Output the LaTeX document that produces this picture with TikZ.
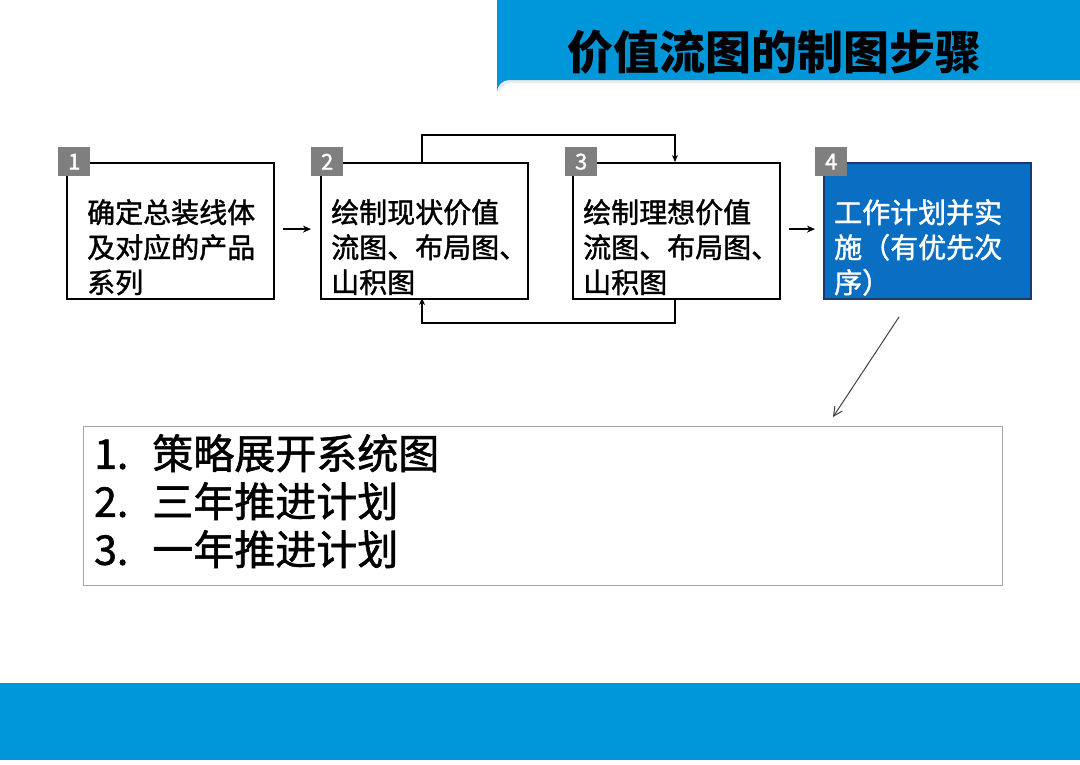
\documentclass[tikz,border=0pt]{standalone}
\usepackage{fontspec}
\setmainfont{Noto Sans CJK SC}
\newfontfamily\cjkmed[FakeBold=1.4]{Noto Sans CJK SC}
\usetikzlibrary{arrows.meta,calc}
\definecolor{banner}{HTML}{0096DA}
\definecolor{stepblue}{HTML}{0A6FC2}
\definecolor{stepborder}{HTML}{1B3A6B}
\definecolor{numgray}{HTML}{7F7F7F}
\tikzset{
  stepbox/.style={draw=black, line width=2.2pt, minimum width=207pt, minimum height=136pt, anchor=north west, inner sep=0pt},
  numbox/.style={fill=numgray, minimum width=32pt, minimum height=29pt, anchor=north west, inner sep=0pt, text=white, font=\fontsize{22}{22}\selectfont\cjkmed},
  steptext/.style={anchor=north west, align=left, inner sep=0pt, font=\fontsize{28}{35}\selectfont\cjkmed},
  flow/.style={line width=1.8pt, -{Stealth[length=8pt,width=7pt]}},
  loop/.style={line width=1.8pt, -{Stealth[length=7pt,width=6pt]}},
}
\begin{document}
\begin{tikzpicture}[x=1pt,y=-1pt]
\useasboundingbox (0,0) rectangle (1080,764);
% top banner
\fill[black!8] (499,2) -- (1080,2) -- (1080,83) -- (511,83) arc[start angle=270,end angle=180,radius=12] -- cycle;
\fill[banner] (497,0) -- (1080,0) -- (1080,80) -- (509,80) arc[start angle=270,end angle=180,radius=12] -- cycle;
\node[font=\fontsize{46}{46}\selectfont\bfseries, text=black] (title) at (774,52) {价值流图的制图步骤};
% bottom bar
\fill[banner] (0,683) rectangle (1080,760);
% boxes
\node[stepbox, fill=white] (b1) at (66,162) {};
\node[stepbox, fill=white] (b2) at (320,162) {};
\node[stepbox, fill=white] (b3) at (572,162) {};
\node[stepbox, fill=stepblue, draw=stepborder] (b4) at (823,162) {};
\node[numbox] (n1) at (58,147) {1};
\node[numbox] (n2) at (311,147) {2};
\node[numbox] (n3) at (565,147) {3};
\node[numbox] (n4) at (815,147) {4};
\node[steptext] (t1) at (87,199) {确定总装线体\\及对应的产品\\系列};
\node[steptext] (t2) at (331,199) {绘制现状价值\\流图、布局图、\\山积图};
\node[steptext] (t3) at (583,199) {绘制理想价值\\流图、布局图、\\山积图};
\node[steptext, text=white] (t4) at (834,199) {工作计划并实\\施（有优先次\\序）};
% arrows between boxes
\draw[flow] ($(b1.east)+(8,-2)$) -- ($(b2.west)+(-9,-2)$);
\draw[flow] ($(b3.east)+(8,-2)$) -- ($(b4.west)+(-8,-2)$);
% loops
\coordinate (l2t) at (422,162);
\coordinate (l3t) at (675,162);
\draw[loop] (l2t) -- (422,135) -- (675,135) -- (l3t);
\coordinate (l3b) at (675,298);
\coordinate (l2b) at (422,298);
\draw[loop] (l3b) -- (675,323) -- (422,323) -- (l2b);
% diagonal arrow
\coordinate (ds) at (899,317);
\node[draw=black!35, line width=1pt, minimum width=919pt, minimum height=159pt, anchor=north west, inner sep=0pt] (list) at (83,426) {};
\draw[black!75, line width=1pt, -{Straight Barb[length=9pt,width=9pt]}] (ds) -- (833,417);
\node[anchor=north west, align=left, inner sep=0pt, font=\fontsize{41}{48}\selectfont\cjkmed] (lt) at (94,434) {1.\hspace{24pt}策略展开系统图\\2.\hspace{24pt}三年推进计划\\3.\hspace{24pt}一年推进计划};
\end{tikzpicture}
\end{document}
